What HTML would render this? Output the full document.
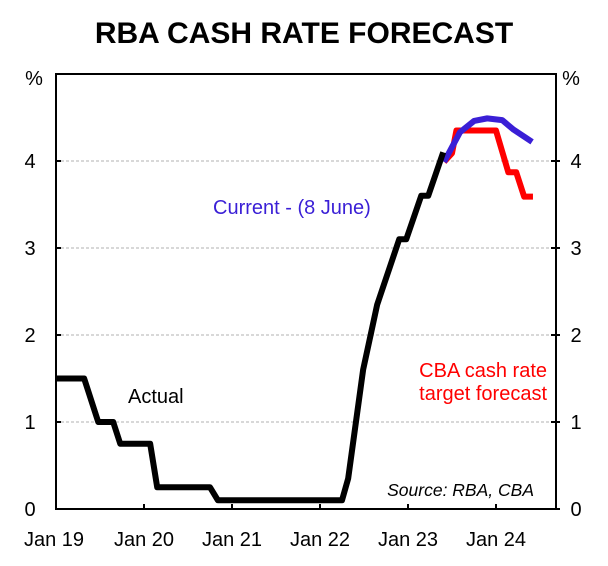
<!DOCTYPE html>
<html><head><meta charset="utf-8"><style>
html,body{margin:0;padding:0;background:#fff;}
svg{display:block;font-family:"Liberation Sans",Arial,sans-serif;}
</style></head><body>
<svg id="chart" width="608" height="566">
<text x="304" y="43" text-anchor="middle" font-size="30" font-weight="bold">RBA CASH RATE FORECAST</text>
<g id="grid"></g><g id="axes"></g><g id="series"></g>
<text x="213" y="214" font-size="20" fill="#3a1fd6">Current - (8 June)</text>
<text x="128" y="403" font-size="20" fill="#000">Actual</text>
<text x="547" y="377" font-size="20" fill="#ff0000" text-anchor="end">CBA cash rate</text>
<text x="547" y="400" font-size="20" fill="#ff0000" text-anchor="end">target forecast</text>
<text x="534" y="496" font-size="17.5" font-style="italic" text-anchor="end">Source: RBA, CBA</text>
</svg>
<script>
const yTicks=[0,1,2,3,4];
const xTickYears=[2019,2020,2021,2022,2023,2024];
const xTickLabels=["Jan 19","Jan 20","Jan 21","Jan 22","Jan 23","Jan 24"];
const actualDates=[2019.0,2019.32,2019.48,2019.65,2019.73,2020.07,2020.15,2020.75,2020.84,2022.25,2022.32,2022.49,2022.65,2022.9,2022.98,2023.15,2023.23,2023.4];
const actualValues=[1.5,1.5,1.0,1.0,0.75,0.75,0.25,0.25,0.1,0.1,0.35,1.6,2.35,3.1,3.1,3.6,3.6,4.1];
const cbaDates=[2023.41,2023.5,2023.55,2024.0,2024.14,2024.23,2024.32,2024.42];
const cbaValues=[3.99,4.09,4.35,4.35,3.87,3.87,3.59,3.59];
const currentDates=[2023.41,2023.59,2023.75,2023.9,2024.07,2024.2,2024.32,2024.41];
const currentValues=[3.99,4.33,4.46,4.49,4.47,4.36,4.28,4.22];
const L=56,R=556,B=509,T=74,X0=2019,PXY=88,PXV=87;
const xs=d=>L+(d-X0)*PXY, ys=v=>B-v*PXV;
const NS="http://www.w3.org/2000/svg";
function mk(tag,attrs,parent){const e=document.createElementNS(NS,tag);for(const k in attrs)e.setAttribute(k,attrs[k]);parent.appendChild(e);return e;}
const grid=document.getElementById('grid'),axes=document.getElementById('axes'),series=document.getElementById('series');
yTicks.forEach(v=>{
 if(v>0){const g=mk('line',{x1:L,x2:R,y1:ys(v),y2:ys(v),stroke:'#b0b0b0','stroke-width':1,'stroke-dasharray':'3,2'},grid);
 
 }
 const t1=mk('text',{x:30,y:ys(v)+7,'font-size':20,'text-anchor':'middle'},axes);t1.textContent=v;
 
 
 const t2=mk('text',{x:576,y:ys(v)+7,'font-size':20,'text-anchor':'middle'},axes);t2.textContent=v;
 
 
 const tk=mk('line',{x1:L,x2:L+5,y1:ys(v),y2:ys(v),stroke:'#000','stroke-width':2},axes);
 
 
 const tk2=mk('line',{x1:R-5,x2:R+4,y1:ys(v),y2:ys(v),stroke:'#000','stroke-width':2},axes);
 
 
});
[["%",34],["%",571]].forEach(([s,x],i)=>{const t=mk('text',{x:x,y:85,'font-size':20,'text-anchor':'middle'},axes);t.textContent=s;
 
 });
const box=mk('rect',{x:L,y:T,width:R-L,height:B-T,fill:'none',stroke:'#000','stroke-width':2},axes);


xTickYears.forEach((yr,i)=>{
 if(i>0){const tk=mk('line',{x1:xs(yr),x2:xs(yr),y1:B,y2:B-5,stroke:'#000','stroke-width':2},axes);
 
 }
 const t=mk('text',{x:xs(yr)-(i==0?2:0),y:546,'font-size':20,'text-anchor':'middle'},axes);t.textContent=xTickLabels[i];
 
 
});
function line(d,v,col,name){const p=d.map((x,i)=>xs(x)+','+ys(v[i])).join(' ');
 const e=mk('polyline',{points:p,fill:'none',stroke:col,'stroke-width':6,'stroke-linejoin':'round'},series);
 
 }
line(cbaDates,cbaValues,'#ff0000','cba-forecast-line');
line(currentDates,currentValues,'#3a1fd6','current-forecast-line');
line(actualDates,actualValues,'#000','actual-cash-rate-line');
</script>
</body></html>
